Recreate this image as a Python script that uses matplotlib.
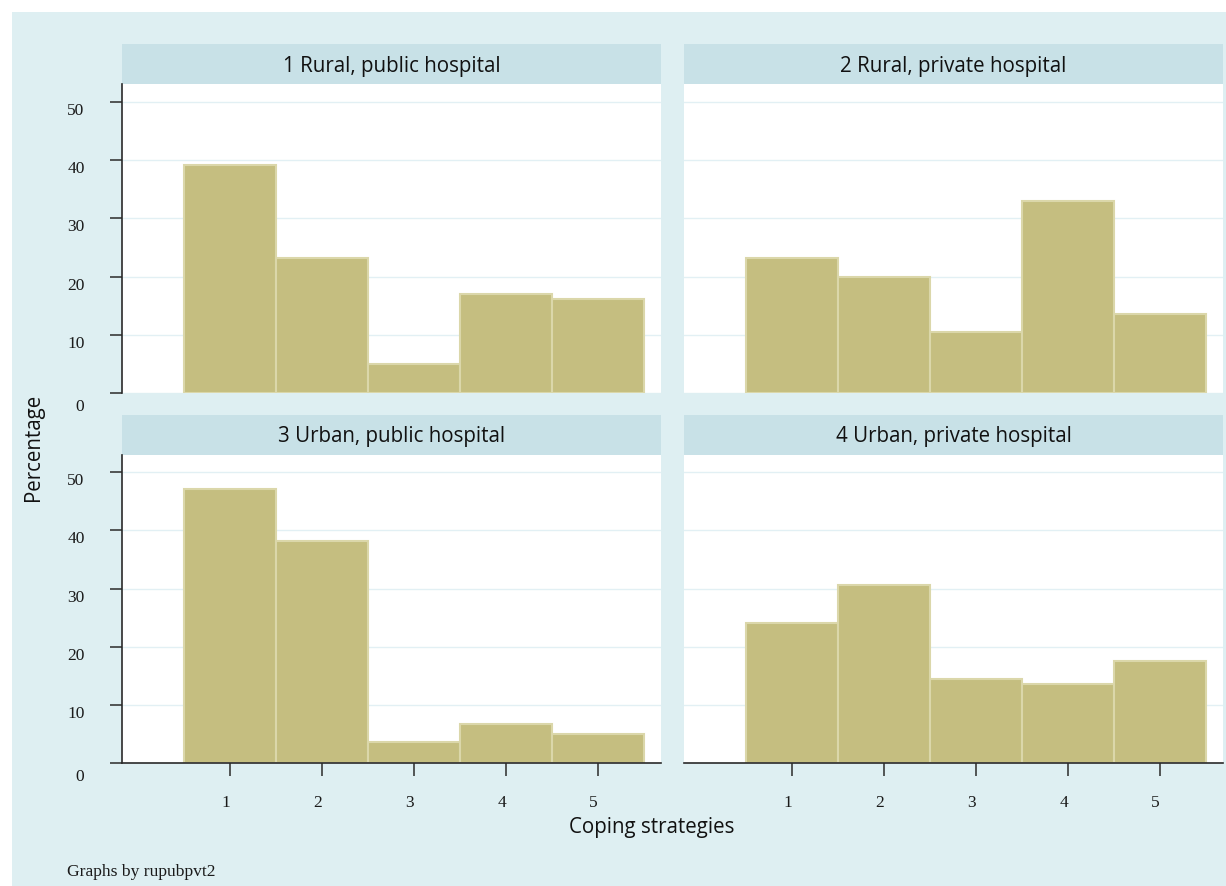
#Stata-style 2x2 histogram panels of coping strategies by residence and hospital type

import matplotlib
matplotlib.use('Agg')
import matplotlib.pyplot as plt
from matplotlib.patches import Rectangle
from matplotlib.transforms import ScaledTranslation

#data (percent of patients per strategy)
strategies = [1, 2, 3, 4, 5]
panel_titles = ['1 Rural, public hospital', '2 Rural, private hospital',
                '3 Urban, public hospital', '4 Urban, private hospital']
rural_public = [39.1, 23.1, 5.1, 17.0, 16.1]
rural_private = [23.1, 20.0, 10.5, 32.9, 13.6]
urban_public = [47.1, 38.2, 3.6, 6.7, 5.1]
urban_private = [24.1, 30.6, 14.5, 13.6, 17.6]
yticks = [0, 10, 20, 30, 40, 50]

#colours
bg = '#deeff2'
strip = '#c8e1e7'
fill = '#c5be80'
edge = '#dbd7aa'
gridc = '#e2f0f4'
axc = '#2a2a2a'

sans = ['Open Sans', 'DejaVu Sans']
serif = ['Liberation Serif', 'DejaVu Serif']

W, H = 1226, 887
fig = plt.figure(figsize=(W / 100, H / 100), dpi=100, facecolor='white')
fig.patches.append(Rectangle((12 / W, 0), 1 - 12 / W, 1 - 13 / H,
                             transform=fig.transFigure, facecolor=bg,
                             edgecolor='none', zorder=-10))


def px(x0, y0, x1, y1):
    #pixel box (top-left origin) -> figure fraction rect
    return [x0 / W, 1 - y1 / H, (x1 - x0) / W, (y1 - y0) / H]


cols = [(122, 661), (684, 1223)]
rows = [((45, 85), (85, 394.3)), ((415.7, 455.7), (455.7, 764.3))]
series = [rural_public, rural_private, urban_public, urban_private]

for i, vals in enumerate(series):
    r, c = divmod(i, 2)
    (hy0, hy1), (py0, py1) = rows[r]
    x0, x1 = cols[c]

    #header strip
    hax = fig.add_axes(px(x0, hy0, x1, hy1))
    hax.set_facecolor(strip)
    hax.set_xticks([])
    hax.set_yticks([])
    for s in hax.spines.values():
        s.set_visible(False)
    hax.text(0.5, 0.47, panel_titles[i], ha='center', va='center',
             fontsize=14.8, family=sans, color='#111111',
             transform=hax.transAxes)

    ax = fig.add_axes(px(x0, py0, x1, py1))
    ax.set_facecolor('white')
    ax.bar(strategies, vals, width=1, color=fill, edgecolor=edge,
           linewidth=1.5, zorder=2)
    ax.set_xlim(-0.17, 5.69)
    ax.set_ylim(0, 53)
    ax.set_yticks(yticks)
    ax.set_xticks(strategies)
    ax.grid(axis='y', color=gridc, linewidth=1.0)
    ax.set_axisbelow(True)
    for s in ax.spines.values():
        s.set_visible(False)

    if c == 0:
        ax.spines['left'].set_visible(True)
        ax.spines['left'].set_color(axc)
        ax.spines['left'].set_linewidth(1.2)
        ax.tick_params(axis='y', length=9, width=1.1, color=axc, pad=18,
                       labelsize=12.5, labelcolor='#1a1a1a')
        for lab in ax.get_yticklabels():
            lab.set_family(serif)
            dy = -0.107 if lab.get_text() == '0' else -0.06
            lab.set_transform(lab.get_transform() +
                              ScaledTranslation(0, dy, fig.dpi_scale_trans))
    else:
        ax.tick_params(axis='y', left=False, labelleft=False)

    if r == 1:
        ax.spines['bottom'].set_visible(True)
        ax.spines['bottom'].set_color(axc)
        ax.spines['bottom'].set_linewidth(1.2)
        ax.tick_params(axis='x', length=9, width=1.1, color=axc, pad=13,
                       labelsize=12.5, labelcolor='#1a1a1a')
        for lab in ax.get_xticklabels():
            lab.set_family(serif)
            lab.set_transform(lab.get_transform() +
                              ScaledTranslation(-0.04, 0, fig.dpi_scale_trans))
    else:
        ax.tick_params(axis='x', bottom=False, labelbottom=False)

fig.text(33 / W, 1 - 447 / H, 'Percentage', rotation=90, ha='center',
         va='center', fontsize=14.8, family=sans, color='#111111')
fig.text(652 / W, 1 - 828 / H, 'Coping strategies', ha='center',
         va='center', fontsize=14.8, family=sans, color='#111111')
fig.text(67 / W, 1 - 872 / H, 'Graphs by rupubpvt2', ha='left',
         va='center', fontsize=12.6, family=serif, color='#1a1a1a')

fig.savefig('out.png', dpi=100, facecolor=fig.get_facecolor())
